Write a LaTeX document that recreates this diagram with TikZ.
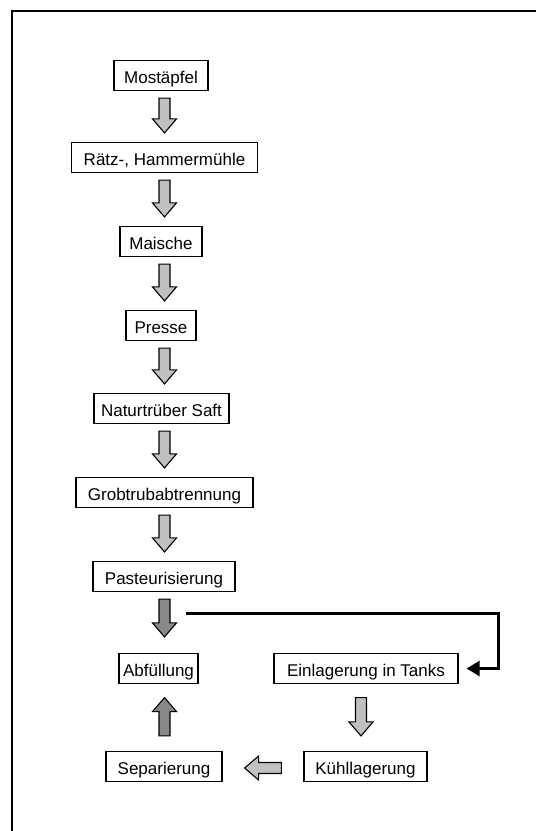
\documentclass[tikz,border=0pt]{standalone}
\usepackage{fontspec}
\setmainfont{Liberation Sans}
\usetikzlibrary{calc,arrows.meta}
\definecolor{arrlight}{RGB}{192,192,192}
\definecolor{arrdark}{RGB}{136,136,136}
\tikzset{
 box/.style={draw, line width=1.2pt, minimum height=30pt, inner sep=0pt,
   text height=15.5pt, text depth=0pt, font=\fontsize{17}{20}\selectfont},
 barrow/.style={draw=black, line width=1.1pt, line join=miter, fill=arrlight,
   to path={let \p1=(\tikztostart), \p2=(\tikztotarget),
     \n1={atan2(\y2-\y1,\x2-\x1)}, \n2={veclen(\x2-\x1,\y2-\y1)} in
     ($(\p1)+({\n1+90}:5.5pt)$) --
     ($(\p1)+({\n1}:{\n2-14pt})+({\n1+90}:5.5pt)$) --
     ($(\p1)+({\n1}:{\n2-14pt})+({\n1+90}:12pt)$) --
     (\p2) --
     ($(\p1)+({\n1}:{\n2-14pt})+({\n1-90}:12pt)$) --
     ($(\p1)+({\n1}:{\n2-14pt})+({\n1-90}:5.5pt)$) --
     ($(\p1)+({\n1-90}:5.5pt)$) -- cycle}},
 darkarrow/.style={barrow, fill=arrdark},
 conn/.style={line width=2.4pt, line join=miter, -{Triangle[length=13pt,width=15pt]}},
 frame/.style={line width=2pt, line join=miter}
}
\begin{document}
\begin{tikzpicture}[x=1pt,y=-1pt]
\useasboundingbox (0,0) rectangle (536,831);
\draw[frame] (11.5,831) -- (11.5,10.5) -- (536,10.5);
\coordinate (col) at (164.5,0);
\coordinate (colr) at (361,0);
\node[box, minimum width=94pt] (most) at (161,75.5) {Mostäpfel};
\node[box, minimum width=186pt] (raetz) at (164.5,157.5) {Rätz-, Hammermühle};
\node[box, minimum width=82pt] (mais) at (161,241.5) {Maische};
\node[box, minimum width=70pt] (pres) at (161,325.5) {Presse};
\node[box, minimum width=135pt] (natu) at (161.5,408.5) {Naturtrüber Saft};
\node[box, minimum width=177pt] (grob) at (164.5,492.5) {Grobtrubabtrennung};
\node[box, minimum width=142pt] (past) at (164,576.5) {Pasteurisierung};
\node[box, minimum width=79pt] (abf) at (158.5,668.5) {Abfüllung};
\node[box, minimum width=184pt] (einl) at (366,668.5) {Einlagerung in Tanks};
\node[box, minimum width=116pt] (sep) at (164,766.5) {Separierung};
\node[box, minimum width=123pt] (kuehl) at (365.5,766.5) {Kühllagerung};
\draw[barrow] ($(col |- most.south)+(0pt,-7pt)$) to ($(col |- raetz.north)+(0pt,9pt)$);
\draw[barrow] ($(col |- raetz.south)+(0pt,-7pt)$) to ($(col |- mais.north)+(0pt,9pt)$);
\draw[barrow] ($(col |- mais.south)+(0pt,-7pt)$) to ($(col |- pres.north)+(0pt,9pt)$);
\draw[barrow] ($(col |- pres.south)+(0pt,-7pt)$) to ($(col |- natu.north)+(0pt,9pt)$);
\draw[barrow] ($(col |- natu.south)+(0pt,-7pt)$) to ($(col |- grob.north)+(0pt,9pt)$);
\draw[barrow] ($(col |- grob.south)+(0pt,-7pt)$) to ($(col |- past.north)+(0pt,9pt)$);
\draw[darkarrow] ($(col |- past.south)+(0pt,-7pt)$) to ($(col |- abf.north)+(0pt,16pt)$);
\draw[darkarrow] ($(col |- sep.north)+(0pt,15pt)$) to ($(col |- abf.south)+(0pt,-13.5pt)$);
\draw[barrow] ($(colr |- einl.south)+(0pt,-13.5pt)$) to ($(colr |- kuehl.north)+(0pt,15pt)$);
\draw[barrow] ($(kuehl.west)+(-22pt,-1.5pt)$) to ($(sep.east)+(22pt,-1.5pt)$);
\coordinate (lstart) at (186,613.5);
\draw[conn] (lstart) -| ($(einl.east)+(40pt,0pt)$) -- ($(einl.east)+(8pt,0pt)$);
\end{tikzpicture}
\end{document}
